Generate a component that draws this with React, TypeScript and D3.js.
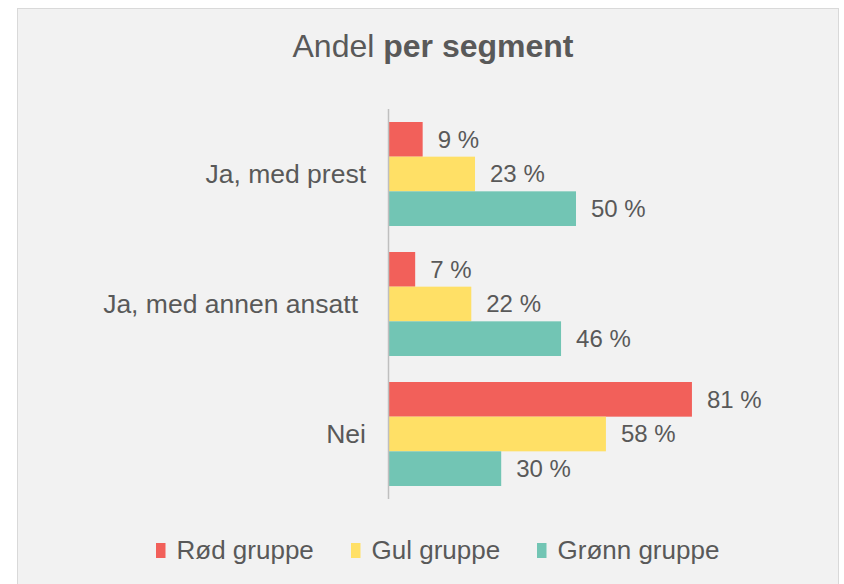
import React, { useEffect, useRef } from "react";
import * as d3 from "d3";

const categories = ["Ja, med prest", "Ja, med annen ansatt", "Nei"];
const seriesNames = ["Rød gruppe", "Gul gruppe", "Grønn gruppe"];
const rodValues = [9, 7, 81];
const gulValues = [23, 22, 58];
const gronnValues = [50, 46, 30];
const colors = ["#F2605A", "#FFE066", "#72C5B4"];

export default function App() {
  const ref = useRef<SVGSVGElement>(null);

  useEffect(() => {
    const svg = d3.select(ref.current);
    svg.selectAll("*").remove();

    const W = 844;
    const H = 584;
    const font = "'Liberation Sans', Arial, sans-serif";
    const textColor = "#595959";

    // chart area box
    svg.append("rect").attr("width", W).attr("height", H).attr("fill", "#fff");
    svg.append("rect").attr("x", 17.5).attr("y", 8.5).attr("width", 821).attr("height", 590)
      .attr("fill", "#f2f2f2").attr("stroke", "#d9d9d9").attr("stroke-width", 1);

    const title = svg.append("text").attr("x", 433).attr("y", 57).attr("text-anchor", "middle")
      .style("font-family", font).style("font-size", "32px").attr("fill", textColor);
    title.append("tspan").text("Andel ");
    title.append("tspan").style("font-weight", "bold").text("per segment");

    const values = [rodValues, gulValues, gronnValues];
    const y0 = d3.scaleBand().domain(categories).range([109, 499]).paddingInner(0.2).paddingOuter(0.1);
    const y1 = d3.scaleBand().domain(seriesNames).range([0, y0.bandwidth()]);
    const x = d3.scaleLinear().domain([0, 100]).range([389, 763]);

    // the middle label sits a little further left in the original
    const labelRight = [366, 358, 366];

    categories.forEach((cat, ci) => {
      seriesNames.forEach((s, si) => {
        const v = values[si][ci];
        const yy = (y0(cat) as number) + (y1(s) as number);
        svg.append("rect").attr("x", x(0)).attr("y", yy).attr("width", x(v) - x(0))
          .attr("height", y1.bandwidth()).attr("fill", colors[si]);
        svg.append("text").attr("x", x(v) + 15).attr("y", yy + y1.bandwidth() / 2).attr("dy", "0.35em")
          .style("font-family", font).style("font-size", "24px").attr("fill", textColor).text(`${v} %`);
      });
      svg.append("text").attr("x", labelRight[ci]).attr("y", (y0(cat) as number) + y0.bandwidth() / 2).attr("dy", "0.35em")
        .attr("text-anchor", "end").style("font-family", font).style("font-size", "26.5px")
        .attr("fill", textColor).text(cat);
    });

    svg.append("line").attr("x1", x(0) - 0.5).attr("x2", x(0) - 0.5).attr("y1", 109).attr("y2", 499)
      .attr("stroke", "#bfbfbf").attr("stroke-width", 1.5);

    // legend
    const legendX = [156, 351, 537];
    seriesNames.forEach((s, i) => {
      const g = svg.append("g").attr("transform", `translate(${legendX[i]},543)`);
      g.append("rect").attr("width", 9.5).attr("height", 15).attr("fill", colors[i]);
      g.append("text").attr("x", 20.5).attr("y", 16).style("font-family", font)
        .style("font-size", "26px").attr("fill", textColor).text(s);
    });
  }, []);

  return <svg ref={ref} width={844} height={584} style={{ position: "absolute", left: 0, top: 0 }} />;
}
